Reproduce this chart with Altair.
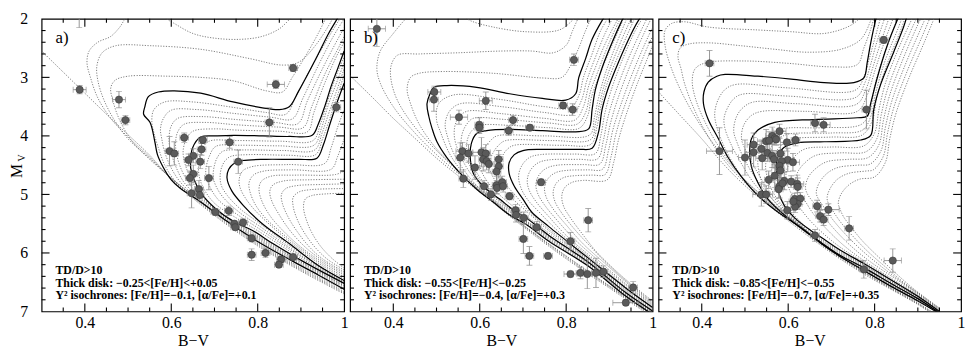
import altair as alt
import pandas as pd

SERIF = "Liberation Serif"
W, H = 306, 296

# ---------------- axis ticks / labels ----------------
x_label_values = [0.4, 0.6, 0.8, 1.0]
y_label_values = [2, 3, 4, 5, 6, 7]
x_major_ticks = [0.4, 0.6, 0.8]
x_minor_ticks = [0.35, 0.45, 0.5, 0.55, 0.65, 0.7, 0.75, 0.85, 0.9, 0.95]
y_major_ticks = [3, 4, 5, 6]
y_minor_ticks = [2.2, 2.4, 2.6, 2.8, 3.2, 3.4, 3.6, 3.8, 4.2, 4.4, 4.6, 4.8,
                 5.2, 5.4, 5.6, 5.8, 6.2, 6.4, 6.6, 6.8]

# ---------------- panel a: isochrones (B-V, M_V) ----------------
a_y1 = [[1.0,6.70],[0.9,6.31],[0.8,5.88],[0.7,5.36],[0.6,4.74],[0.55,4.33],[0.5,3.98],[0.45,3.63],[0.4,3.27],[0.35,2.91],[0.3,2.55]]
a_y2 = [[1.0,6.68],[0.9,6.29],[0.8,5.86],[0.7,5.34],[0.6,4.73],[0.55,4.36],[0.5,4.02],[0.46,3.7],[0.43,3.35],[0.413,3.0],[0.405,2.75],[0.41,2.55],[0.43,2.4],[0.46,2.3],[0.48,2.15],[0.5,1.95],[0.55,1.85],[0.6,2.05],[0.65,2.25],[0.7,2.33],[0.76,2.35],[0.81,2.3],[0.85,2.17],[0.875,2.0],[0.89,1.9]]
a_y3 = [[1.0,6.66],[0.9,6.27],[0.8,5.84],[0.7,5.32],[0.6,4.72],[0.55,4.38],[0.5,4.05],[0.47,3.75],[0.445,3.4],[0.43,3.05],[0.428,2.8],[0.44,2.58],[0.471,2.46],[0.555,2.46],[0.668,2.52],[0.782,2.68],[0.857,2.79],[0.895,2.74],[0.933,2.46],[0.971,2.03],[0.98,1.9]]
a_y4 = [[1.0,6.63],[0.9,6.25],[0.8,5.82],[0.7,5.31],[0.6,4.72],[0.55,4.4],[0.51,4.1],[0.48,3.72],[0.465,3.4],[0.46,3.18],[0.47,3.05],[0.5,2.98],[0.592,2.98],[0.668,3.0],[0.744,3.06],[0.82,3.23],[0.857,3.25],[0.88,3.0],[0.911,2.63],[0.94,2.25],[0.96,1.95]]
a_m1 = [[1.0,6.59],[0.9,6.2],[0.8,5.78],[0.7,5.29],[0.65,5.02],[0.61,4.78],[0.585,4.5],[0.57,4.2],[0.56,3.95],[0.555,3.75],[0.56,3.55],[0.585,3.42],[0.65,3.42],[0.75,3.52],[0.82,3.6],[0.865,3.63],[0.89,3.3],[0.93,2.75],[0.965,2.3],[0.99,2.0]]
a_m2 = [[1.0,6.57],[0.9,6.18],[0.8,5.76],[0.7,5.28],[0.65,5.0],[0.62,4.78],[0.6,4.55],[0.585,4.28],[0.578,4.05],[0.575,3.88],[0.582,3.7],[0.6,3.56],[0.66,3.55],[0.75,3.62],[0.83,3.68],[0.88,3.71],[0.905,3.35],[0.94,2.8],[0.975,2.3],[1.0,2.0]]
a_m3 = [[1.0,6.56],[0.9,6.16],[0.8,5.74],[0.7,5.26],[0.66,5.02],[0.63,4.8],[0.612,4.55],[0.6,4.3],[0.595,4.12],[0.595,4.0],[0.6,3.83],[0.615,3.7],[0.67,3.67],[0.75,3.72],[0.84,3.77],[0.893,3.79],[0.915,3.4],[0.95,2.85],[0.985,2.35],[1.0,2.15]]
a_m4 = [[1.0,6.55],[0.9,6.15],[0.8,5.72],[0.7,5.25],[0.665,5.02],[0.64,4.8],[0.622,4.55],[0.612,4.3],[0.61,4.1],[0.615,3.93],[0.63,3.8],[0.68,3.77],[0.75,3.81],[0.85,3.85],[0.905,3.86],[0.925,3.5],[0.955,2.95],[0.99,2.45],[1.0,2.3]]
a_m5 = [[1.0,6.53],[0.9,6.13],[0.8,5.7],[0.7,5.24],[0.67,5.02],[0.65,4.8],[0.635,4.55],[0.628,4.35],[0.628,4.22],[0.635,4.05],[0.65,3.92],[0.7,3.88],[0.75,3.9],[0.85,3.92],[0.915,3.93],[0.93,3.6],[0.955,3.1],[0.985,2.6],[1.0,2.4]]
a_n1 = [[1.0,6.51],[0.9,6.09],[0.8,5.62],[0.75,5.4],[0.7,5.15],[0.675,4.9],[0.665,4.7],[0.663,4.5],[0.668,4.3],[0.685,4.1],[0.75,4.08],[0.85,4.09],[0.928,4.08],[0.945,3.8],[0.96,3.45],[0.98,3.0],[1.0,2.65]]
a_n2 = [[1.0,6.5],[0.9,6.06],[0.8,5.57],[0.75,5.33],[0.71,5.1],[0.69,4.88],[0.681,4.7],[0.68,4.57],[0.688,4.35],[0.703,4.18],[0.76,4.16],[0.85,4.17],[0.93,4.16],[0.947,3.88],[0.962,3.5],[0.982,3.1],[1.0,2.75]]
a_n3 = [[1.0,6.49],[0.9,6.04],[0.8,5.52],[0.76,5.32],[0.72,5.05],[0.703,4.85],[0.697,4.7],[0.7,4.5],[0.708,4.35],[0.72,4.26],[0.77,4.24],[0.86,4.25],[0.932,4.24],[0.949,3.95],[0.965,3.6],[0.984,3.2],[1.0,2.85]]
a_n4 = [[1.0,6.48],[0.9,6.01],[0.8,5.47],[0.76,5.25],[0.73,5.02],[0.716,4.85],[0.713,4.7],[0.716,4.55],[0.725,4.42],[0.738,4.35],[0.78,4.32],[0.87,4.33],[0.934,4.32],[0.95,4.05],[0.967,3.7],[0.985,3.3],[1.0,2.95]]
a_o1 = [[1.0,6.44],[0.95,6.22],[0.9,5.96],[0.85,5.66],[0.8,5.32],[0.775,5.1],[0.76,4.9],[0.757,4.75],[0.765,4.6],[0.79,4.52],[0.87,4.49],[0.955,4.47],[0.97,4.2],[0.985,3.85],[1.0,3.55]]
a_o2 = [[1.0,6.41],[0.95,6.19],[0.9,5.93],[0.85,5.62],[0.82,5.42],[0.795,5.18],[0.782,4.95],[0.78,4.8],[0.79,4.67],[0.815,4.6],[0.88,4.58],[0.97,4.57],[0.985,4.35],[1.0,4.05]]
a_o3 = [[1.0,6.38],[0.95,6.16],[0.9,5.9],[0.86,5.63],[0.83,5.38],[0.81,5.12],[0.803,4.92],[0.808,4.78],[0.83,4.69],[0.89,4.67],[0.98,4.66],[1.0,4.6]]
a_o4 = [[1.0,6.35],[0.95,6.13],[0.91,5.9],[0.875,5.62],[0.85,5.35],[0.833,5.12],[0.828,4.95],[0.835,4.84],[0.86,4.77],[0.92,4.75],[1.0,4.74]]
a_o5 = [[1.0,6.32],[0.95,6.1],[0.92,5.9],[0.89,5.62],[0.87,5.38],[0.857,5.15],[0.855,5.0],[0.865,4.9],[0.89,4.85],[0.95,4.83],[1.0,4.82]]
a_o6 = [[1.0,6.29],[0.96,6.1],[0.93,5.88],[0.905,5.62],[0.89,5.4],[0.882,5.2],[0.882,5.05],[0.895,4.96],[0.92,4.92],[1.0,4.9]]
a_o7 = [[1.0,6.26],[0.97,6.08],[0.945,5.88],[0.925,5.65],[0.912,5.42],[0.906,5.22],[0.91,5.08],[0.925,5.02],[0.96,4.99],[1.0,4.98]]
a_s1 = [[1.0,6.62],[0.941,6.38],[0.873,6.11],[0.797,5.79],[0.729,5.46],[0.668,5.13],[0.62,4.89],[0.60,4.75],[0.581,4.53],[0.568,4.32],[0.562,4.10],[0.551,3.77],[0.536,3.63],[0.539,3.50],[0.547,3.33],[0.570,3.25],[0.607,3.23],[0.668,3.27],[0.743,3.42],[0.811,3.52],[0.850,3.55],[0.873,3.50],[0.895,3.23],[0.934,2.69],[0.964,2.25],[0.986,1.97],[0.99,1.9]]
a_s2 = [[1.0,6.52],[0.911,6.17],[0.835,5.84],[0.789,5.62],[0.744,5.46],[0.702,5.24],[0.668,4.97],[0.653,4.75],[0.645,4.55],[0.645,4.42],[0.649,4.21],[0.668,4.02],[0.706,4.0],[0.744,3.99],[0.812,4.0],[0.873,4.01],[0.926,3.99],[0.94,3.8],[0.955,3.5],[0.97,3.15],[0.985,2.85],[1.0,2.55]]
a_s3 = [[1.0,6.47],[0.941,6.22],[0.873,5.84],[0.812,5.51],[0.767,5.19],[0.740,4.94],[0.729,4.72],[0.733,4.57],[0.745,4.47],[0.765,4.42],[0.82,4.40],[0.895,4.40],[0.937,4.38],[0.952,4.15],[0.967,3.8],[0.985,3.4],[1.0,3.1]]
a_dotted = [a_y1, a_y2, a_y3, a_y4, a_m1, a_m2, a_m3, a_m4, a_m5, a_n1, a_n2, a_n3, a_n4,
            a_o1, a_o2, a_o3, a_o4, a_o5, a_o6, a_o7]
a_solid = [a_s1, a_s2, a_s3]

# ---------------- panel b: isochrones ----------------
b_y1 = [[1.0,7.1],[0.9,6.6],[0.8,6.1],[0.7,5.55],[0.6,4.96],[0.55,4.68],[0.5,4.38],[0.45,4.04],[0.4,3.7],[0.35,3.33],[0.3,2.97]]
b_y2 = [[1.0,7.08],[0.9,6.58],[0.8,6.08],[0.7,5.53],[0.6,4.94],[0.55,4.64],[0.5,4.32],[0.45,3.95],[0.4,3.5],[0.37,3.1],[0.362,2.85],[0.37,2.55],[0.4,2.25],[0.425,2.03],[0.45,1.85],[0.55,1.9],[0.578,2.03],[0.631,2.14],[0.707,2.22],[0.784,2.19],[0.814,2.03],[0.83,1.9]]
b_y3 = [[1.0,7.07],[0.9,6.57],[0.8,6.06],[0.7,5.52],[0.6,4.92],[0.55,4.6],[0.5,4.25],[0.45,3.85],[0.41,3.4],[0.395,3.05],[0.395,2.8],[0.41,2.62],[0.46,2.6],[0.55,2.58],[0.65,2.55],[0.72,2.55],[0.77,2.58],[0.8,2.45],[0.815,2.2],[0.83,1.95]]
b_y4 = [[1.0,7.06],[0.9,6.56],[0.8,6.05],[0.7,5.52],[0.6,4.9],[0.55,4.58],[0.5,4.22],[0.46,3.8],[0.44,3.45],[0.432,3.2],[0.44,3.0],[0.46,2.93],[0.517,2.9],[0.631,2.93],[0.745,3.01],[0.79,3.0],[0.81,2.8],[0.829,2.5],[0.845,2.2],[0.86,1.95]]
b_m1 = [[1.0,7.04],[0.94,6.74],[0.85,6.21],[0.76,5.78],[0.7,5.46],[0.65,5.2],[0.6,4.93],[0.56,4.62],[0.53,4.3],[0.51,3.95],[0.5,3.72],[0.505,3.45],[0.54,3.3],[0.65,3.38],[0.75,3.5],[0.81,3.52],[0.83,3.3],[0.84,3.0],[0.86,2.6],[0.88,2.2],[0.9,1.95]]
b_m2 = [[1.0,7.03],[0.94,6.73],[0.85,6.2],[0.76,5.76],[0.7,5.44],[0.65,5.18],[0.6,4.9],[0.565,4.6],[0.54,4.3],[0.525,4.0],[0.52,3.8],[0.53,3.58],[0.555,3.45],[0.65,3.5],[0.75,3.6],[0.815,3.63],[0.835,3.4],[0.848,3.05],[0.868,2.65],[0.89,2.25],[0.91,1.95]]
b_m3 = [[1.0,7.02],[0.94,6.72],[0.85,6.18],[0.76,5.74],[0.7,5.43],[0.65,5.15],[0.61,4.9],[0.575,4.6],[0.553,4.3],[0.542,4.05],[0.542,3.85],[0.55,3.7],[0.57,3.58],[0.65,3.62],[0.75,3.7],[0.82,3.73],[0.84,3.5],[0.852,3.15],[0.872,2.75],[0.895,2.35],[0.92,2.0]]
b_m4 = [[1.0,7.01],[0.94,6.71],[0.85,6.17],[0.76,5.72],[0.7,5.42],[0.65,5.13],[0.615,4.88],[0.585,4.6],[0.566,4.35],[0.557,4.15],[0.56,3.95],[0.57,3.8],[0.585,3.7],[0.66,3.72],[0.76,3.78],[0.825,3.8],[0.845,3.6],[0.856,3.25],[0.876,2.85],[0.9,2.4],[0.925,2.0]]
b_m5 = [[1.0,7.0],[0.94,6.7],[0.85,6.16],[0.76,5.71],[0.7,5.41],[0.65,5.11],[0.62,4.9],[0.595,4.65],[0.578,4.42],[0.57,4.25],[0.572,4.05],[0.583,3.9],[0.6,3.82],[0.67,3.82],[0.76,3.86],[0.83,3.87],[0.85,3.65],[0.858,3.35],[0.878,2.95],[0.903,2.5],[0.93,2.05]]
b_n1 = [[1.0,6.98],[0.94,6.67],[0.85,6.13],[0.76,5.66],[0.7,5.33],[0.66,5.1],[0.625,4.85],[0.605,4.62],[0.6,4.45],[0.608,4.25],[0.625,4.08],[0.64,4.0],[0.75,4.0],[0.855,3.98],[0.865,3.7],[0.875,3.35],[0.89,2.95],[0.915,2.45],[0.94,2.0]]
b_n2 = [[1.0,6.96],[0.94,6.65],[0.85,6.11],[0.76,5.62],[0.71,5.3],[0.675,5.07],[0.645,4.85],[0.627,4.65],[0.622,4.5],[0.63,4.3],[0.645,4.15],[0.66,4.08],[0.77,4.08],[0.857,4.06],[0.868,3.78],[0.878,3.42],[0.893,3.02],[0.92,2.5],[0.95,2.0]]
b_n3 = [[1.0,6.94],[0.94,6.63],[0.85,6.1],[0.76,5.59],[0.715,5.3],[0.69,5.08],[0.663,4.85],[0.648,4.68],[0.645,4.55],[0.652,4.35],[0.665,4.22],[0.68,4.16],[0.79,4.16],[0.858,4.14],[0.871,3.85],[0.88,3.5],[0.895,3.1],[0.925,2.55],[0.958,2.0]]
b_o1 = [[1.0,6.92],[0.94,6.59],[0.85,6.05],[0.78,5.62],[0.74,5.32],[0.71,5.08],[0.695,4.88],[0.69,4.68],[0.698,4.5],[0.715,4.37],[0.74,4.32],[0.82,4.31],[0.868,4.3],[0.88,4.0],[0.89,3.6],[0.905,3.2],[0.93,2.7],[0.96,2.2],[0.98,1.95]]
b_o2 = [[1.0,6.9],[0.94,6.56],[0.86,6.08],[0.8,5.7],[0.76,5.38],[0.73,5.12],[0.714,4.92],[0.71,4.75],[0.718,4.58],[0.735,4.46],[0.76,4.41],[0.83,4.4],[0.873,4.39],[0.886,4.08],[0.896,3.7],[0.912,3.3],[0.94,2.75],[0.97,2.25],[0.99,1.95]]
b_o3 = [[1.0,6.88],[0.94,6.54],[0.87,6.1],[0.82,5.77],[0.78,5.45],[0.75,5.18],[0.734,4.98],[0.73,4.82],[0.738,4.66],[0.755,4.55],[0.78,4.5],[0.84,4.49],[0.878,4.48],[0.892,4.15],[0.902,3.8],[0.918,3.4],[0.948,2.8],[0.98,2.25],[1.0,1.95]]
b_o4 = [[1.0,6.86],[0.95,6.57],[0.89,6.18],[0.84,5.85],[0.8,5.52],[0.77,5.25],[0.754,5.05],[0.75,4.88],[0.758,4.73],[0.775,4.63],[0.8,4.59],[0.85,4.58],[0.884,4.57],[0.898,4.25],[0.908,3.9],[0.925,3.5],[0.955,2.9],[0.99,2.3],[1.0,2.15]]
b_o5 = [[1.0,6.84],[0.95,6.55],[0.9,6.22],[0.86,5.92],[0.82,5.6],[0.79,5.32],[0.774,5.12],[0.77,4.95],[0.778,4.8],[0.795,4.71],[0.82,4.68],[0.86,4.67],[0.89,4.66],[0.904,4.35],[0.914,4.0],[0.93,3.6],[0.96,3.0],[0.99,2.45],[1.0,2.3]]
b_o6 = [[1.0,6.82],[0.95,6.53],[0.91,6.27],[0.87,5.98],[0.84,5.7],[0.81,5.4],[0.794,5.2],[0.79,5.02],[0.797,4.88],[0.815,4.79],[0.84,4.76],[0.895,4.75],[0.91,4.45],[0.92,4.1],[0.936,3.7],[0.965,3.1],[0.995,2.55],[1.0,2.45]]
b_s1 = [[1.0,7.05],[0.94,6.75],[0.85,6.22],[0.76,5.8],[0.707,5.51],[0.669,5.35],[0.631,5.13],[0.593,4.91],[0.555,4.64],[0.524,4.37],[0.501,4.10],[0.490,3.88],[0.482,3.66],[0.478,3.45],[0.485,3.28],[0.494,3.17],[0.524,3.14],[0.593,3.17],[0.669,3.28],[0.745,3.36],[0.799,3.39],[0.822,3.28],[0.829,3.01],[0.845,2.68],[0.860,2.35],[0.883,2.03],[0.89,1.95]]
b_s2 = [[1.0,6.99],[0.94,6.69],[0.85,6.15],[0.76,5.7],[0.707,5.40],[0.684,5.30],[0.646,5.08],[0.608,4.86],[0.585,4.64],[0.578,4.37],[0.581,4.12],[0.593,3.96],[0.616,3.91],[0.669,3.89],[0.745,3.91],[0.822,3.93],[0.852,3.88],[0.860,3.55],[0.867,3.23],[0.883,2.84],[0.906,2.41],[0.929,2.03],[0.935,1.95]]
b_s3 = [[1.0,6.93],[0.94,6.61],[0.85,6.08],[0.76,5.55],[0.72,5.3],[0.70,5.08],[0.68,4.86],[0.668,4.64],[0.668,4.46],[0.68,4.32],[0.70,4.25],[0.745,4.23],[0.829,4.23],[0.860,4.21],[0.875,3.93],[0.883,3.55],[0.898,3.17],[0.921,2.74],[0.951,2.25],[0.967,2.03],[0.975,1.95]]
b_dotted = [b_y1, b_y2, b_y3, b_y4, b_m1, b_m2, b_m3, b_m4, b_m5, b_n1, b_n2, b_n3,
            b_o1, b_o2, b_o3, b_o4, b_o5, b_o6]
b_solid = [b_s1, b_s2, b_s3]

# ---------------- panel c: isochrones ----------------
c_y1 = [[0.95,7.12],[0.9,6.88],[0.84,6.63],[0.775,6.36],[0.7,6.0],[0.6,5.45],[0.5,4.85],[0.45,4.48],[0.4,4.05],[0.35,3.65],[0.3,3.25]]
c_y2 = [[0.95,7.11],[0.9,6.87],[0.84,6.62],[0.775,6.34],[0.7,5.98],[0.6,5.42],[0.5,4.8],[0.45,4.4],[0.41,3.95],[0.38,3.5],[0.36,3.1],[0.352,2.85],[0.345,2.65],[0.35,2.5],[0.37,2.43],[0.415,2.41],[0.492,2.46],[0.569,2.52],[0.645,2.57],[0.722,2.52],[0.768,2.35],[0.791,2.03],[0.795,1.95]]
c_y3 = [[0.95,7.1],[0.9,6.86],[0.84,6.61],[0.775,6.33],[0.7,5.97],[0.6,5.4],[0.5,4.76],[0.45,4.35],[0.4,3.85],[0.36,3.35],[0.33,2.85],[0.315,2.45],[0.315,2.2],[0.33,2.08],[0.36,2.05],[0.415,2.14],[0.53,2.19],[0.607,2.22],[0.683,2.25],[0.737,2.14],[0.76,2.03],[0.77,1.95]]
c_y4 = [[0.95,7.09],[0.9,6.85],[0.84,6.6],[0.775,6.32],[0.7,5.95],[0.6,5.38],[0.5,4.75],[0.45,4.3],[0.41,3.8],[0.385,3.35],[0.378,3.05],[0.385,2.85],[0.41,2.75],[0.5,2.72],[0.6,2.76],[0.7,2.82],[0.76,2.78],[0.775,2.5],[0.79,2.2],[0.8,1.95]]
c_m1 = [[0.955,7.07],[0.9,6.81],[0.84,6.57],[0.775,6.29],[0.72,6.05],[0.676,5.84],[0.62,5.5],[0.56,5.18],[0.51,4.85],[0.475,4.5],[0.45,4.15],[0.435,3.85],[0.43,3.62],[0.438,3.38],[0.455,3.2],[0.48,3.12],[0.6,3.18],[0.755,3.22],[0.775,3.0],[0.787,2.7],[0.8,2.35],[0.815,1.95]]
c_m2 = [[0.955,7.07],[0.9,6.8],[0.84,6.56],[0.775,6.28],[0.72,6.05],[0.676,5.83],[0.62,5.49],[0.565,5.15],[0.52,4.8],[0.49,4.45],[0.465,4.1],[0.453,3.85],[0.452,3.68],[0.465,3.45],[0.48,3.33],[0.5,3.28],[0.6,3.32],[0.757,3.34],[0.777,3.1],[0.79,2.8],[0.805,2.4],[0.825,1.95]]
c_m3 = [[0.955,7.06],[0.9,6.8],[0.84,6.55],[0.775,6.27],[0.72,6.04],[0.676,5.83],[0.62,5.48],[0.57,5.13],[0.53,4.78],[0.5,4.42],[0.482,4.12],[0.474,3.92],[0.48,3.68],[0.495,3.52],[0.52,3.42],[0.62,3.45],[0.758,3.46],[0.78,3.2],[0.795,2.85],[0.812,2.45],[0.835,1.95]]
c_m4 = [[0.955,7.06],[0.9,6.79],[0.84,6.54],[0.775,6.26],[0.72,6.04],[0.676,5.82],[0.625,5.5],[0.578,5.15],[0.545,4.82],[0.518,4.48],[0.5,4.22],[0.492,4.05],[0.497,3.82],[0.515,3.65],[0.54,3.58],[0.64,3.58],[0.76,3.58],[0.783,3.3],[0.8,2.9],[0.82,2.45],[0.845,1.95]]
c_n1 = [[0.953,7.04],[0.9,6.77],[0.84,6.52],[0.775,6.23],[0.72,6.01],[0.676,5.8],[0.63,5.55],[0.59,5.3],[0.56,5.05],[0.54,4.8],[0.532,4.6],[0.53,4.4],[0.54,4.15],[0.56,3.98],[0.585,3.88],[0.68,3.86],[0.77,3.8],[0.79,3.55],[0.8,3.15],[0.82,2.65],[0.845,2.15],[0.855,1.95]]
c_n2 = [[0.952,7.03],[0.9,6.76],[0.84,6.5],[0.775,6.21],[0.72,5.99],[0.676,5.78],[0.635,5.55],[0.6,5.3],[0.572,5.05],[0.555,4.8],[0.549,4.62],[0.548,4.48],[0.558,4.22],[0.578,4.05],[0.6,3.97],[0.7,3.95],[0.772,3.9],[0.792,3.65],[0.803,3.25],[0.825,2.7],[0.855,2.15],[0.865,1.95]]
c_n3 = [[0.951,7.02],[0.9,6.75],[0.84,6.49],[0.775,6.2],[0.72,5.97],[0.676,5.76],[0.64,5.55],[0.607,5.3],[0.582,5.05],[0.568,4.8],[0.563,4.65],[0.562,4.55],[0.57,4.3],[0.59,4.12],[0.61,4.05],[0.7,4.02],[0.77,3.99],[0.794,3.75],[0.806,3.3],[0.83,2.75],[0.86,2.2],[0.872,1.95]]
c_o1 = [[0.95,6.99],[0.9,6.73],[0.84,6.46],[0.775,6.16],[0.72,5.9],[0.68,5.66],[0.645,5.4],[0.62,5.15],[0.603,4.92],[0.595,4.75],[0.598,4.55],[0.615,4.35],[0.64,4.22],[0.7,4.19],[0.775,4.17],[0.8,3.95],[0.81,3.55],[0.825,3.1],[0.85,2.6],[0.88,2.1],[0.89,1.95]]
c_o2 = [[0.95,6.98],[0.9,6.72],[0.84,6.44],[0.775,6.13],[0.73,5.88],[0.69,5.6],[0.66,5.35],[0.638,5.1],[0.622,4.92],[0.617,4.8],[0.622,4.62],[0.64,4.45],[0.665,4.33],[0.72,4.29],[0.78,4.27],[0.805,4.05],[0.815,3.65],[0.83,3.2],[0.858,2.65],[0.89,2.1],[0.9,1.95]]
c_o3 = [[0.95,6.97],[0.9,6.7],[0.85,6.45],[0.79,6.15],[0.745,5.88],[0.705,5.58],[0.68,5.35],[0.66,5.15],[0.645,5.0],[0.64,4.88],[0.647,4.7],[0.665,4.55],[0.69,4.44],[0.74,4.4],[0.785,4.37],[0.81,4.15],[0.82,3.75],[0.835,3.3],[0.865,2.7],[0.9,2.1],[0.91,1.95]]
c_o4 = [[0.95,6.96],[0.9,6.69],[0.86,6.48],[0.81,6.2],[0.765,5.92],[0.725,5.62],[0.7,5.4],[0.683,5.22],[0.67,5.08],[0.665,4.97],[0.672,4.8],[0.69,4.64],[0.715,4.54],[0.76,4.5],[0.79,4.48],[0.815,4.25],[0.825,3.85],[0.84,3.4],[0.87,2.8],[0.905,2.2],[0.92,1.95]]
c_o5 = [[0.95,6.95],[0.9,6.68],[0.87,6.52],[0.83,6.27],[0.785,5.98],[0.748,5.7],[0.722,5.48],[0.705,5.3],[0.694,5.17],[0.69,5.06],[0.697,4.9],[0.714,4.74],[0.74,4.64],[0.78,4.6],[0.797,4.58],[0.82,4.35],[0.83,3.95],[0.845,3.5],[0.875,2.9],[0.91,2.3],[0.93,1.95]]
c_o6 = [[0.95,6.94],[0.9,6.67],[0.88,6.55],[0.845,6.32],[0.805,6.04],[0.77,5.78],[0.745,5.55],[0.728,5.38],[0.72,5.25],[0.716,5.15],[0.722,5.0],[0.74,4.84],[0.765,4.74],[0.8,4.7],[0.825,4.45],[0.835,4.05],[0.85,3.6],[0.88,3.0],[0.915,2.4],[0.94,1.95]]
c_s1 = [[0.96,7.08],[0.9,6.82],[0.84,6.58],[0.775,6.30],[0.72,6.06],[0.676,5.84],[0.630,5.57],[0.576,5.30],[0.530,5.02],[0.492,4.70],[0.461,4.37],[0.438,4.04],[0.415,3.72],[0.404,3.45],[0.405,3.25],[0.415,3.08],[0.435,2.98],[0.454,2.95],[0.530,2.98],[0.607,3.03],[0.683,3.09],[0.752,3.09],[0.775,3.01],[0.783,2.74],[0.791,2.41],[0.802,2.03],[0.805,1.95]]
c_s2 = [[0.955,7.05],[0.9,6.78],[0.84,6.53],[0.775,6.25],[0.72,6.04],[0.676,5.82],[0.645,5.66],[0.599,5.40],[0.553,5.08],[0.530,4.80],[0.515,4.53],[0.511,4.26],[0.515,4.05],[0.53,3.9],[0.569,3.77],[0.660,3.72],[0.760,3.69],[0.783,3.66],[0.791,3.44],[0.806,3.01],[0.829,2.46],[0.852,2.03],[0.857,1.95]]
c_s3 = [[0.95,7.0],[0.9,6.74],[0.84,6.47],[0.775,6.18],[0.72,5.95],[0.676,5.73],[0.653,5.62],[0.615,5.40],[0.591,5.19],[0.578,4.97],[0.576,4.75],[0.572,4.55],[0.577,4.35],[0.59,4.2],[0.622,4.12],[0.683,4.10],[0.768,4.07],[0.791,3.99],[0.798,3.55],[0.814,3.12],[0.844,2.57],[0.867,2.14],[0.875,1.95]]
c_dotted = [c_y1, c_y2, c_y3, c_y4, c_m1, c_m2, c_m3, c_m4, c_n1, c_n2, c_n3,
            c_o1, c_o2, c_o3, c_o4, c_o5, c_o6]
c_solid = [c_s1, c_s2, c_s3]

# ---------------- stars: B-V, M_V and their errors ----------------
a_bv = [0.387,0.388,0.479,0.494,0.882,0.842,0.827,0.982,0.630,0.596,0.607,0.673,0.670,0.651,0.640,0.667,0.735,0.755,0.651,0.643,0.687,0.664,0.666,0.647,0.702,0.733,0.746,0.748,0.766,0.786,0.786,0.818,0.854,0.849,0.882]
a_mv = [1.85,3.21,3.38,3.73,2.84,3.12,3.77,3.51,4.03,4.26,4.30,4.07,4.23,4.34,4.41,4.44,4.11,4.44,4.65,4.72,4.72,4.91,5.01,4.98,5.30,5.28,5.50,5.56,5.48,5.75,6.03,6.00,6.11,6.20,6.07]
a_xe = [0.01,0.015,0.015,0.01,0.01,0.02,0.01,0.01,0.01,0.01,0.01,0.01,0.01,0.01,0.01,0.01,0.01,0.01,0.01,0.01,0.01,0.01,0.01,0.01,0.01,0.01,0.01,0.01,0.01,0.01,0.01,0.01,0.01,0.01,0.01]
a_ye = [0.30,0.07,0.14,0.08,0.06,0.07,0.25,0.08,0.08,0.25,0.20,0.06,0.10,0.12,0.10,0.12,0.10,0.20,0.15,0.12,0.20,0.15,0.10,0.25,0.06,0.08,0.05,0.05,0.06,0.06,0.10,0.08,0.05,0.05,0.05]

b_bv = [0.362,0.818,0.495,0.494,0.614,0.793,0.815,0.552,0.599,0.599,0.677,0.667,0.716,0.560,0.574,0.555,0.604,0.614,0.608,0.616,0.621,0.644,0.644,0.639,0.589,0.562,0.610,0.639,0.640,0.652,0.654,0.626,0.669,0.742,0.683,0.684,0.702,0.732,0.701,0.715,0.758,0.851,0.810,0.810,0.833,0.849,0.869,0.886,0.955,0.938]
b_mv = [2.17,2.70,3.25,3.38,3.40,3.48,3.55,3.68,3.81,3.86,3.73,3.91,3.86,4.26,4.30,4.37,4.28,4.30,4.40,4.43,4.48,4.40,4.52,4.61,4.54,4.73,4.86,4.84,4.89,4.79,4.86,5.00,5.03,4.79,5.27,5.35,5.40,5.56,5.76,6.05,6.05,5.44,5.80,6.36,6.34,6.36,6.34,6.32,6.59,6.85]
b_xe = [0.02,0.01,0.015,0.01,0.015,0.01,0.01,0.02,0.01,0.01,0.01,0.01,0.01,0.015,0.01,0.01,0.02,0.01,0.01,0.01,0.01,0.01,0.01,0.01,0.01,0.01,0.01,0.01,0.01,0.01,0.01,0.01,0.01,0.01,0.01,0.01,0.01,0.01,0.01,0.01,0.01,0.01,0.01,0.015,0.01,0.01,0.01,0.01,0.01,0.03]
b_ye = [0.30,0.10,0.10,0.20,0.15,0.05,0.10,0.12,0.12,0.10,0.08,0.08,0.05,0.15,0.15,0.25,0.25,0.15,0.20,0.15,0.15,0.15,0.20,0.15,0.20,0.15,0.10,0.15,0.10,0.10,0.10,0.10,0.06,0.05,0.10,0.12,0.10,0.10,0.25,0.16,0.05,0.20,0.15,0.05,0.10,0.25,0.25,0.10,0.10,0.05]

c_bv = [0.821,0.418,0.781,0.662,0.682,0.441,0.500,0.580,0.563,0.569,0.549,0.556,0.572,0.597,0.617,0.520,0.538,0.520,0.552,0.563,0.582,0.540,0.567,0.599,0.585,0.611,0.580,0.582,0.569,0.555,0.591,0.607,0.621,0.580,0.587,0.578,0.622,0.538,0.549,0.615,0.628,0.622,0.616,0.598,0.667,0.674,0.682,0.693,0.741,0.662,0.775,0.842,0.612]
c_mv = [2.36,2.76,3.55,3.78,3.81,4.26,4.37,3.92,4.00,4.04,4.09,4.08,4.06,4.11,4.07,4.15,4.22,4.28,4.29,4.34,4.30,4.38,4.40,4.41,4.43,4.45,4.51,4.59,4.68,4.75,4.77,4.78,4.82,4.86,4.81,4.91,4.87,5.00,5.00,5.08,5.07,5.16,5.21,5.27,5.20,5.37,5.43,5.26,5.58,5.70,6.28,6.13,5.12]
c_xe = [0.01,0.01,0.01,0.01,0.015,0.03,0.015,0.015,0.015,0.01,0.02,0.015,0.01,0.015,0.01,0.015,0.01,0.02,0.01,0.015,0.01,0.015,0.01,0.015,0.01,0.015,0.01,0.01,0.015,0.01,0.015,0.01,0.015,0.01,0.01,0.01,0.01,0.02,0.015,0.01,0.01,0.01,0.01,0.015,0.01,0.01,0.01,0.025,0.01,0.01,0.01,0.02,0.01]
c_ye = [0.06,0.22,0.33,0.15,0.12,0.4,0.3,0.12,0.15,0.1,0.2,0.15,0.1,0.15,0.1,0.2,0.15,0.25,0.15,0.2,0.15,0.2,0.15,0.2,0.1,0.15,0.2,0.15,0.2,0.15,0.15,0.1,0.15,0.2,0.1,0.15,0.15,0.2,0.15,0.1,0.1,0.1,0.1,0.15,0.1,0.1,0.1,0.1,0.2,0.1,0.15,0.2,0.1]

# ---------------- text ----------------
a_notes = ["TD/D>10", "Thick disk: \u22120.25<[Fe/H]<+0.05", "Y\u00b2 isochrones: [Fe/H]=\u22120.1, [\u03b1/Fe]=+0.1"]
b_notes = ["TD/D>10", "Thick disk: \u22120.55<[Fe/H]<\u22120.25", "Y\u00b2 isochrones: [Fe/H]=\u22120.4, [\u03b1/Fe]=+0.3"]
c_notes = ["TD/D>10", "Thick disk: \u22120.85<[Fe/H]<\u22120.55", "Y\u00b2 isochrones: [Fe/H]=\u22120.7, [\u03b1/Fe]=+0.35"]
note_bv = 0.332
note_mv = [6.29, 6.51, 6.72]
panel_label_pos = [0.332, 2.33]

X_DOMAIN = [0.3, 1.0]
Y_DOMAIN = [2, 7]
XS = alt.Scale(domain=X_DOMAIN, nice=False, zero=False)
YS = alt.Scale(domain=Y_DOMAIN, reverse=True, nice=False, zero=False)

MAJ, MIN = 8, 4
x_per_px = (X_DOMAIN[1] - X_DOMAIN[0]) / W
y_per_px = (Y_DOMAIN[1] - Y_DOMAIN[0]) / H


def iso_frame(lines):
    rows = []
    for k, line in enumerate(lines):
        for i, (b, m) in enumerate(line):
            rows.append({"bv": b, "M": m, "line": k, "i": i})
    return pd.DataFrame(rows)


def panel(label, dotted, solid, bv, mv, xe, ye, notes, show_y):
    xaxis = alt.Axis(values=x_label_values, format="~g", ticks=False, domain=False, grid=False,
                     labelFont=SERIF, labelFontSize=16, labelColor="black", labelPadding=3,
                     labelOverlap=False, labelFlush=False, title="B\u2212V", titleFont=SERIF,
                     titleFontSize=16, titleFontWeight="normal", titleColor="black", titlePadding=2)
    if show_y:
        yaxis = alt.Axis(values=y_label_values, ticks=False, domain=False, grid=False,
                         labelFont=SERIF, labelFontSize=16, labelColor="black", labelPadding=14,
                         title=None)
    else:
        yaxis = None

    def X(f="bv"):
        return alt.X(f"{f}:Q", scale=XS, axis=xaxis)

    def Y(f="M"):
        return alt.Y(f"{f}:Q", scale=YS, axis=yaxis)

    dots = alt.Chart(iso_frame(dotted)).mark_line(
        clip=True, color="#5e5e5e", strokeWidth=0.8, strokeDash=[1.2, 1.5], interpolate="catmull-rom"
    ).encode(x=X(), y=Y(), detail="line:N", order="i:Q")
    solids = alt.Chart(iso_frame(solid)).mark_line(
        clip=True, color="black", strokeWidth=1.25, interpolate="catmull-rom"
    ).encode(x=X(), y=Y(), detail="line:N", order="i:Q")

    stars = pd.DataFrame({"bv": bv, "M": mv, "xe": xe, "ye": ye})
    stars["xlo"] = stars.bv - stars.xe
    stars["xhi"] = stars.bv + stars.xe
    stars["ylo"] = stars.M - stars.ye
    stars["yhi"] = stars.M + stars.ye
    eb = dict(clip=True, color="#8c8c8c", strokeWidth=0.9)
    ey = alt.Chart(stars).mark_rule(**eb).encode(x=X(), y=Y("ylo"), y2="yhi")
    ex = alt.Chart(stars).mark_rule(**eb).encode(y=Y(), x=X("xlo"), x2="xhi")
    cap = dict(clip=True, color="#8c8c8c", thickness=0.9, size=6)
    cy1 = alt.Chart(stars).mark_tick(orient="horizontal", **cap).encode(x=X(), y=Y("ylo"))
    cy2 = alt.Chart(stars).mark_tick(orient="horizontal", **cap).encode(x=X(), y=Y("yhi"))
    cx1 = alt.Chart(stars).mark_tick(orient="vertical", **cap).encode(x=X("xlo"), y=Y())
    cx2 = alt.Chart(stars).mark_tick(orient="vertical", **cap).encode(x=X("xhi"), y=Y())
    pts = alt.Chart(stars).mark_circle(
        clip=True, size=54, color="#5a5a5a", opacity=1, stroke="#3c3c3c", strokeWidth=0.6
    ).encode(x=X(), y=Y())

    # inward axis ticks on all four sides
    rows = []
    for v in x_major_ticks:
        rows.append({"bv": v, "bv2": v, "M": 7.0, "M2": 7.0 - MAJ * y_per_px})
        rows.append({"bv": v, "bv2": v, "M": 2.0, "M2": 2.0 + MAJ * y_per_px})
    for v in x_minor_ticks:
        rows.append({"bv": v, "bv2": v, "M": 7.0, "M2": 7.0 - MIN * y_per_px})
        rows.append({"bv": v, "bv2": v, "M": 2.0, "M2": 2.0 + MIN * y_per_px})
    for v in y_major_ticks:
        rows.append({"bv": 0.3, "bv2": 0.3 + MAJ * x_per_px, "M": v, "M2": v})
        rows.append({"bv": 1.0, "bv2": 1.0 - MAJ * x_per_px, "M": v, "M2": v})
    for v in y_minor_ticks:
        rows.append({"bv": 0.3, "bv2": 0.3 + MIN * x_per_px, "M": v, "M2": v})
        rows.append({"bv": 1.0, "bv2": 1.0 - MIN * x_per_px, "M": v, "M2": v})
    tick_df = pd.DataFrame(rows)
    ticks = alt.Chart(tick_df).mark_rule(color="black", strokeWidth=1.1).encode(
        x=X(), x2="bv2", y=Y(), y2="M2")

    lab = alt.Chart(pd.DataFrame({"bv": [panel_label_pos[0]], "M": [panel_label_pos[1]], "t": [label]})).mark_text(
        align="left", baseline="middle", font=SERIF, fontSize=17, color="black"
    ).encode(x=X(), y=Y(), text="t:N")
    nt = alt.Chart(pd.DataFrame({"bv": [note_bv] * 3, "M": note_mv, "t": notes})).mark_text(
        align="left", baseline="middle", font=SERIF, fontSize=12, fontWeight="bold", color="black"
    ).encode(x=X(), y=Y(), text="t:N")

    layers = [dots, solids, ey, ex, cy1, cy2, cx1, cx2, pts, ticks, lab, nt]
    if show_y:
        one = pd.DataFrame({"t": ["M"], "s": ["V"]})
        layers.append(alt.Chart(one).mark_text(angle=270, font=SERIF, fontSize=16, color="black",
                                               align="center", baseline="middle").encode(
            x=alt.value(-25), y=alt.value(H * 0.52), text="t:N"))
        layers.append(alt.Chart(one).mark_text(angle=270, font=SERIF, fontSize=10, color="black",
                                               align="center", baseline="middle").encode(
            x=alt.value(-20), y=alt.value(H * 0.475), text="s:N"))
    return alt.layer(*layers).properties(width=W, height=H)


pa = panel("a)", a_dotted, a_solid, a_bv, a_mv, a_xe, a_ye, a_notes, True)
pb = panel("b)", b_dotted, b_solid, b_bv, b_mv, b_xe, b_ye, b_notes, False)
pc = panel("c)", c_dotted, c_solid, c_bv, c_mv, c_xe, c_ye, c_notes, False)

chart = alt.hconcat(pa, pb, pc, spacing=6, bounds="flush").properties(
    padding={"left": 0, "top": 0, "right": 0, "bottom": 0}
).configure_view(stroke="black", strokeWidth=1.2)

chart.save("out.html", embed_options={"renderer": "svg", "actions": False})
